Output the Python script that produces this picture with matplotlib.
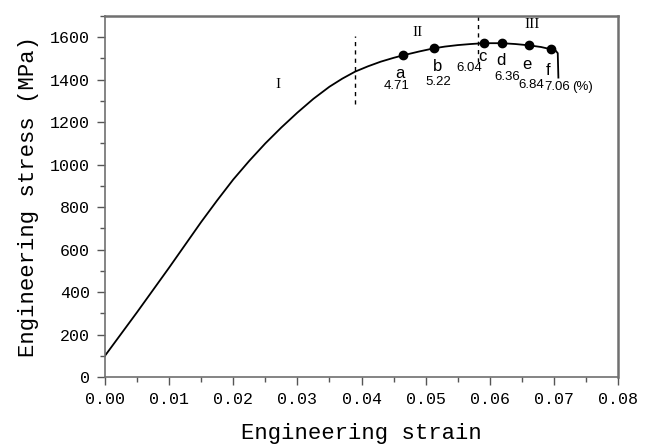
import matplotlib
matplotlib.use("Agg")
import matplotlib.pyplot as plt
from matplotlib.ticker import MultipleLocator, FormatStrFormatter

# Engineering stress-strain curve
strain = [0.000, 0.005, 0.010, 0.015, 0.0175, 0.020, 0.0225, 0.025, 0.0275,
          0.030, 0.0325, 0.035, 0.037, 0.039, 0.041, 0.043, 0.045, 0.0465,
          0.049, 0.0513, 0.053, 0.055, 0.057, 0.0591, 0.0619, 0.064, 0.0661,
          0.068, 0.0696, 0.0703, 0.0706, 0.0707]
stress = [100, 305, 515, 730, 832, 930, 1018, 1100, 1175,
          1245, 1310, 1367, 1405, 1438, 1463, 1485, 1503, 1515,
          1533, 1548, 1556, 1563, 1568, 1572, 1572, 1568, 1562,
          1554, 1543, 1536, 1525, 1410]

# Sampling points a-f and their elongation (%)
pt_names = ["a", "b", "c", "d", "e", "f"]
pt_strain = [0.0465, 0.0513, 0.0591, 0.0619, 0.0661, 0.0696]
pt_stress = [1515, 1548, 1572, 1572, 1562, 1543]
pt_elong = ["4.71", "5.22", "6.04", "6.36", "6.84", "7.06"]

# Stage boundaries and stage names
stage_bounds = [0.039, 0.0582]
stage_names = ["I", "II", "III"]
stage_x = [0.027, 0.0488, 0.0666]
stage_y = [1378, 1623, 1661]

fig = plt.figure(figsize=(6.46, 4.46), dpi=100)
ax = fig.add_axes([0.1625, 0.1547, 0.7942, 0.8094])

ax.plot(strain, stress, color="black", lw=1.3)
ax.plot(pt_strain, pt_stress, "o", color="black", ms=6)

ax.vlines(stage_bounds[0], 1286, 1608, colors="black", linestyles=(0, (3, 3)), lw=1)
ax.vlines(stage_bounds[1], 1482, 1700, colors="black", linestyles=(0, (3, 3)), lw=1)

for name, x, y in zip(stage_names, stage_x, stage_y):
    ax.text(x, y, name, family="Liberation Serif", fontsize=11,
            ha="center", va="center")

# letter / value label offsets from each point, in data units (dx, dy)
letter_off = [(-0.0005, -85), (0.0005, -85), (-0.0003, -62), (-0.0001, -81), (-0.0003, -90), (-0.0005, -99)]
value_off = [(-0.0010, -146), (0.0006, -161), (-0.0023, -119), (0.0008, -161), (0.0003, -189), (0.0009, -179)]
for i in range(len(pt_names)):
    ax.text(pt_strain[i] + letter_off[i][0], pt_stress[i] + letter_off[i][1], pt_names[i],
            family="Liberation Sans", fontsize=12, ha="center", va="center")
    ax.text(pt_strain[i] + value_off[i][0], pt_stress[i] + value_off[i][1], pt_elong[i],
            family="Liberation Sans", fontsize=9.5, ha="center", va="center")
ax.text(0.0745, 1364, "(%)", family="Liberation Sans", fontsize=9.5, ha="center", va="center")

ax.set_xlim(0, 0.08)
ax.set_ylim(0, 1700)
ax.xaxis.set_major_locator(MultipleLocator(0.01))
ax.xaxis.set_minor_locator(MultipleLocator(0.005))
ax.yaxis.set_major_locator(MultipleLocator(200))
ax.yaxis.set_minor_locator(MultipleLocator(100))
ax.xaxis.set_major_formatter(FormatStrFormatter("%.2f"))

ax.tick_params(which="major", direction="out", length=6, width=1, color="#555555",
               labelsize=12, pad=5, top=False, right=False)
ax.tick_params(which="minor", direction="out", length=3.5, width=1, color="#555555",
               top=False, right=False)
for lab in ax.get_xticklabels() + ax.get_yticklabels():
    lab.set_family("Liberation Mono")

for side in ["left", "bottom"]:
    ax.spines[side].set_color("#707070")
    ax.spines[side].set_linewidth(1.2)
for side in ["top", "right"]:
    ax.spines[side].set_color("#707070")
    ax.spines[side].set_linewidth(1.8)

ax.set_xlabel("Engineering strain", family="Liberation Mono", fontsize=16, labelpad=11)
ax.set_ylabel("Engineering stress (MPa)", family="Liberation Mono", fontsize=16, labelpad=8)

fig.savefig("out.png", dpi=100)
